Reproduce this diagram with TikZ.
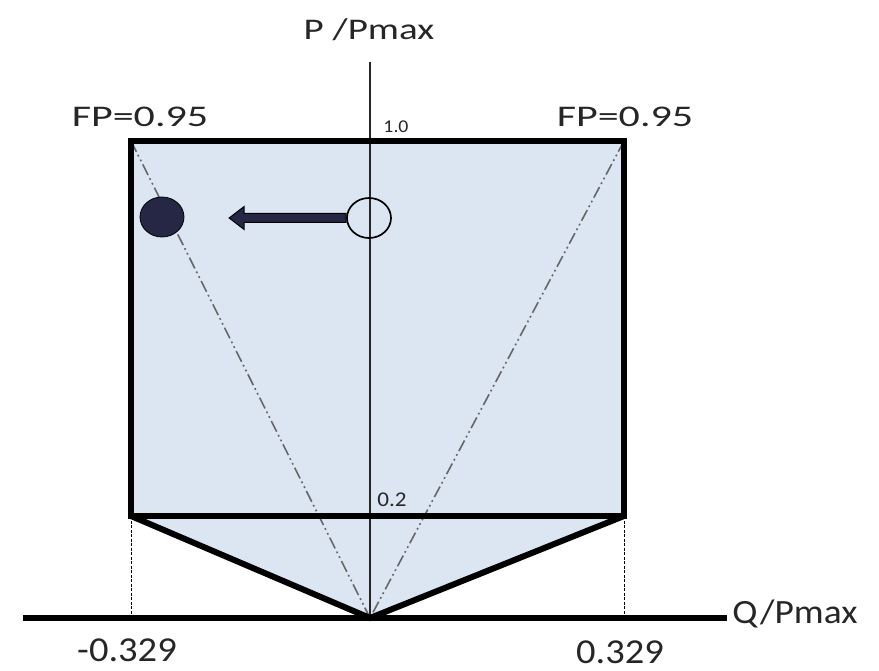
\documentclass[tikz,border=0pt]{standalone}
\usepackage{fontspec}
\setmainfont{Carlito}
\usetikzlibrary{shapes.geometric}
\definecolor{regionfill}{HTML}{DCE6F2}
\definecolor{navy}{HTML}{252745}
\definecolor{txt}{HTML}{262626}
\newcommand{\lbl}[3]{{\fontsize{#2}{#2}\selectfont\scalebox{#1}[1]{#3}}}
\begin{document}
\begin{tikzpicture}[x=1pt,y=-1pt,
  lab/.style={inner sep=0pt, text=txt, anchor=center},
  dashdotline/.style={draw=black!60, line width=1.6pt, dash pattern=on 12pt off 3.5pt on 1.8pt off 3.5pt on 1.8pt off 3.5pt},
  guide/.style={draw=black, line width=0.9pt, dash pattern=on 3pt off 1.5pt},
  boldedge/.style={draw=black, line width=5.5pt, line join=miter},
  point/.style={ellipse, minimum width=44pt, minimum height=40pt, inner sep=0pt}]
\useasboundingbox (0,0) rectangle (879,671);
\coordinate (TL) at (131,141);
\coordinate (TR) at (624,141);
\coordinate (BL) at (131,516);
\coordinate (BR) at (624,516);
\coordinate (O) at (370,618);
\coordinate (BLa) at (131,618);
\coordinate (BRa) at (624,618);
\coordinate (Ptop) at (370,62);
\coordinate (Qleft) at (23,618);
\coordinate (Qright) at (727,618);
% region
\fill[regionfill] (TL) -- (TR) -- (BR) -- (O) -- (BL) -- cycle;
\draw[dashdotline] (TL) -- (O);
\draw[dashdotline] (TR) -- (O);
\draw[guide] (BL) -- (BLa);
\draw[guide] (BR) -- (BRa);
% axes
\draw[line width=1.5pt, black!85] (Ptop) -- (O);
\draw[line width=6.5pt] (Qleft) -- (Qright);
% boundaries
\draw[boldedge] (TL) rectangle (BR);
\draw[boldedge, line width=6pt] (BL) -- (O) -- (BR);
% points
\node[point, fill=navy, draw=black, line width=0.8pt] (new) at (162,217) {};
\node[point, draw=black, line width=1.7pt] (old) at (369,218) {};
\fill[navy, draw=black, line width=1pt] (old.west) ++(0,-4.5) -- ++(-102,0) -- ++(0,-7) -- ++(-15,11.5) -- ++(15,11.5) -- ++(0,-7) -- ++(102,0) -- cycle;
% labels
\node[lab] (plab) at (369,30) {\lbl{1.3}{30}{P /Pmax}};
\node[lab] (fpl) at (140,117) {\lbl{1.4}{30}{FP=0.95}};
\node[lab] (fpr) at (625,117) {\lbl{1.4}{30}{FP=0.95}};
\node[lab] (one) at (396,127) {\lbl{1.1}{18}{1.0}};
\node[lab] (ptwo) at (392,500) {\lbl{1.1}{21}{0.2}};
\node[lab] (qlab) at (795,614) {\lbl{1.1}{34}{Q/Pmax}};
\node[lab] (qneg) at (127,650) {\lbl{1.1}{35}{-0.329}};
\node[lab] (qpos) at (620,652) {\lbl{1.1}{35}{0.329}};
\end{tikzpicture}
\end{document}
